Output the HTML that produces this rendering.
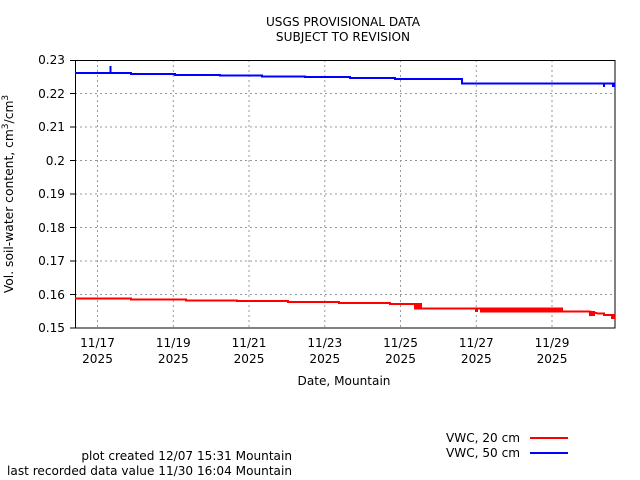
<!DOCTYPE html>
<html><head><style>
body{margin:0;background:#fff;}
svg{display:block;font-family:"DejaVu Sans",sans-serif;}
</style></head><body>
<svg width="640" height="480" viewBox="0 0 640 480">
<rect width="640" height="480" fill="#fff"/>
<text x="343" y="26" font-size="12.1" text-anchor="middle">USGS PROVISIONAL DATA</text>
<text x="343" y="41" font-size="12.1" text-anchor="middle">SUBJECT TO REVISION</text>
<g stroke="#999" stroke-dasharray="2,3" stroke-width="1">
<line x1="75" x2="615" y1="93.5" y2="93.5"/><line x1="75" x2="615" y1="127" y2="127"/>
<line x1="75" x2="615" y1="160.5" y2="160.5"/><line x1="75" x2="615" y1="194" y2="194"/>
<line x1="75" x2="615" y1="227.5" y2="227.5"/><line x1="75" x2="615" y1="261" y2="261"/>
<line x1="75" x2="615" y1="294.5" y2="294.5"/>
<line x1="97.5" x2="97.5" y1="60" y2="328"/><line x1="173.3" x2="173.3" y1="60" y2="328"/>
<line x1="249" x2="249" y1="60" y2="328"/><line x1="324.8" x2="324.8" y1="60" y2="328"/>
<line x1="400.5" x2="400.5" y1="60" y2="328"/><line x1="476.3" x2="476.3" y1="60" y2="328"/>
<line x1="552" x2="552" y1="60" y2="328"/>
</g>
<rect x="75.5" y="60.5" width="539.5" height="267.5" fill="none" stroke="#000"/>
<g stroke="#000">
<line x1="70" x2="75" y1="60.5" y2="60.5"/><line x1="70" x2="75" y1="93.5" y2="93.5"/><line x1="70" x2="75" y1="127" y2="127"/><line x1="70" x2="75" y1="160.5" y2="160.5"/><line x1="70" x2="75" y1="194" y2="194"/><line x1="70" x2="75" y1="227.5" y2="227.5"/><line x1="70" x2="75" y1="261" y2="261"/><line x1="70" x2="75" y1="294.5" y2="294.5"/><line x1="70" x2="75" y1="328" y2="328"/>
</g>
<g id="tk" stroke="#000"></g>
<g font-size="12.1" text-anchor="end">
<text x="65" y="64">0.23</text><text x="65" y="98">0.22</text><text x="65" y="131">0.21</text><text x="65" y="165">0.2</text><text x="65" y="198">0.19</text><text x="65" y="232">0.18</text><text x="65" y="265">0.17</text><text x="65" y="299">0.16</text><text x="65" y="332">0.15</text>
</g>
<g font-size="12.1" text-anchor="middle">
<text x="97.5" y="347">11/17</text><text x="97.5" y="363">2025</text>
<text x="173.3" y="347">11/19</text><text x="173.3" y="363">2025</text>
<text x="249" y="347">11/21</text><text x="249" y="363">2025</text>
<text x="324.8" y="347">11/23</text><text x="324.8" y="363">2025</text>
<text x="400.5" y="347">11/25</text><text x="400.5" y="363">2025</text>
<text x="476.3" y="347">11/27</text><text x="476.3" y="363">2025</text>
<text x="552" y="347">11/29</text><text x="552" y="363">2025</text>
<text x="344" y="385">Date, Mountain</text>
</g>
<text transform="translate(13,194) rotate(-90)" font-size="12.3" text-anchor="middle">Vol. soil-water content, cm<tspan dy="-5" font-size="9">3</tspan><tspan dy="5">/cm</tspan><tspan dy="-5" font-size="9">3</tspan></text>
<path d="M75 73H131V74H175V75H220V75.5H262V76.5H305V77H350V78H395V79H462V83.5H615" fill="none" stroke="#00f" stroke-width="2"/>
<line x1="110.5" x2="110.5" y1="66" y2="73" stroke="#00f" stroke-width="2"/>
<rect x="603" y="83" width="2" height="4" fill="#00f"/><rect x="612" y="83" width="3" height="4" fill="#00f"/>
<path d="M75 298.5H131V299.5H186V300.5H237V301H288V302H339V303H390V304H415V308.5H562V311.5H590L598 313.5H604V315H615" fill="none" stroke="#f00" stroke-width="2"/>
<rect x="415" y="303" width="7" height="6" fill="#f00"/>
<rect x="480" y="307.5" width="82" height="5" fill="#f00"/>
<rect x="475" y="308" width="3" height="4" fill="#f00"/>
<rect x="589" y="311" width="6" height="5" fill="#f00"/>
<rect x="611" y="314" width="4" height="5" fill="#f00"/>
<g font-size="12.1">
<text x="520" y="442" text-anchor="end">VWC, 20 cm</text>
<text x="520" y="457" text-anchor="end">VWC, 50 cm</text>
<text x="292" y="460" text-anchor="end">plot created 12/07 15:31 Mountain</text>
<text x="292" y="475" text-anchor="end">last recorded data value 11/30 16:04 Mountain</text>
</g>
<line x1="530" x2="568" y1="438" y2="438" stroke="#f00" stroke-width="2"/>
<line x1="530" x2="568" y1="453" y2="453" stroke="#00f" stroke-width="2"/>
<script>
var g=document.getElementById('tk'),s='';
for(var i=-1;i<30;i++){var x=97.5+i*18.95;if(x<76||x>614)continue;var l=(i%4==0)?6:4;
s+='<line x1="'+x+'" x2="'+x+'" y1="328" y2="'+(328-l)+'"/><line x1="'+x+'" x2="'+x+'" y1="60" y2="'+(60+l)+'"/>';}
g.innerHTML=s;
</script>
</svg>
</body></html>
